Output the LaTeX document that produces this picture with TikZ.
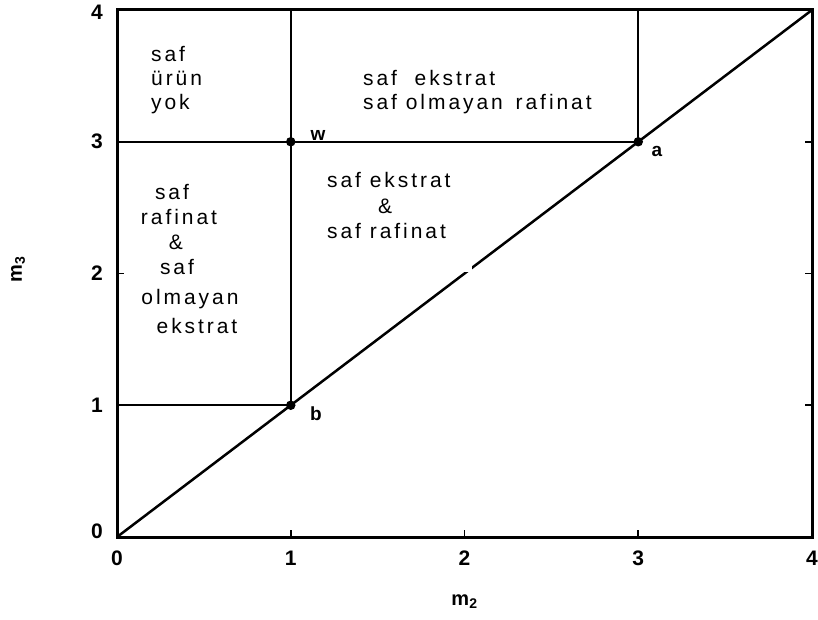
\documentclass[tikz,border=0pt]{standalone}
\usepackage{fontspec}
\setmainfont{Liberation Sans}
\newfontfamily\spaced[LetterSpace=14]{Liberation Sans}
\begin{document}
\begin{tikzpicture}[x=1pt,y=1pt,
  frame/.style={line width=3pt, line join=miter},
  region/.style={line width=2pt},
  diag/.style={line width=2.5pt},
  tick/.style={line width=1.6pt},
  ticklab/.style={font=\fontsize{21}{21}\selectfont\bfseries, inner sep=0pt},
  ptlab/.style={font=\fontsize{19}{19}\selectfont\bfseries, inner sep=0pt},
  txt/.style={font=\spaced\fontsize{21}{24}\selectfont, inner sep=0pt},
  dot/.style={circle, fill=black, inner sep=0pt, minimum size=9.5pt}]
\useasboundingbox (0,0) rectangle (818,619);
% data coordinates: x: 0->117, 1->290.75, 2->464.5, 3->638.25, 4->812 ; y: 0->82, 1->213.75, 2->345.5, 3->477.25, 4->609
\coordinate (o) at (117,82);
\coordinate (br) at (812,82);
\coordinate (tr) at (812,609);
\coordinate (tl) at (117,609);
\coordinate (w) at (290.75,477.25);
\coordinate (a) at (638.25,477.25);
\coordinate (b) at (290.75,213.75);
\coordinate (wtop) at (290.75,609);
\coordinate (atop) at (638.25,609);
\coordinate (l3) at (117,477.25);
\coordinate (l1) at (117,213.75);
% region lines
\draw[region] (b) -- (wtop);
\draw[region] (a) -- (atop);
\draw[region] (l3) -- (a);
\draw[region] (l1) -- (b);
\draw[diag] (o) -- (tr);
% small gap in diagonal
\fill[white] (461,347) rectangle (472,357);
% frame
\draw[frame] (o) -- (br) -- (tr) -- (tl) -- cycle;
% ticks
\foreach \yy in {213.75,345.5,477.25} {
  \draw[tick] (117,\yy) -- ++(7,0);
  \draw[tick] (812,\yy) -- ++(-7,0);
}
\foreach \xx in {290.75,464.5,638.25} {
  \draw[tick] (\xx,82) -- ++(0,7);
}
% points
\node[dot] (wd) at (w) {};
\node[dot] (ad) at (a) {};
\node[dot] (bd) at (b) {};
\node[ptlab] (wl) at (318,484) {w};
\node[ptlab] (al) at (657,468) {a};
\node[ptlab] (bl) at (316,205) {b};
% tick labels
\node[ticklab] (y4) at (97,607) {4};
\node[ticklab] (y3) at (97,478) {3};
\node[ticklab] (y2) at (97,346) {2};
\node[ticklab] (y1) at (97,214) {1};
\node[ticklab] (y0) at (97,88) {0};
\node[ticklab] (x0) at (117,61) {0};
\node[ticklab] (x1) at (290.75,61) {1};
\node[ticklab] (x2) at (464.5,61) {2};
\node[ticklab] (x3) at (638.25,61) {3};
\node[ticklab] (x4) at (812,61) {4};
% axis labels
\node[font=\fontsize{20}{20}\selectfont\bfseries, inner sep=0pt] (m2) at (464.5,17) {m\textsubscript{2}};
\node[font=\fontsize{20}{20}\selectfont\bfseries, inner sep=0pt, rotate=90] (m3) at (18,350) {m\textsubscript{3}};
% region texts: top-left
\node[txt, anchor=base west] (t1) at (151,557) {saf};
\node[txt, anchor=base west] (t2) at (151,533) {ürün};
\node[txt, anchor=base west] (t3) at (151,509) {yok};
% top-middle
\node[txt, anchor=base west] (t4) at (363,533) {saf\ \ ekstrat};
\node[txt, anchor=base west] (t5) at (363,509) {saf olm\hspace{3pt}ayan\hspace{4pt} rafinat};
% left
\node[txt, anchor=base] (t6) at (172,419) {saf};
\node[txt, anchor=base] (t7) at (179,394) {rafinat};
\node[txt, anchor=base] (t8) at (176,369) {\&};
\node[txt, anchor=base] (t9) at (177,344) {saf};
\node[txt, anchor=base] (t10) at (190,314) {olmayan};
\node[txt, anchor=base] (t11) at (197,286) {ekstrat};
% middle
\node[txt, anchor=base west] (t12) at (327,431) {saf ekstrat};
\node[txt, anchor=base] (t13) at (385,405) {\&};
\node[txt, anchor=base west] (t14) at (327,380) {saf rafinat};
\end{tikzpicture}
\end{document}
